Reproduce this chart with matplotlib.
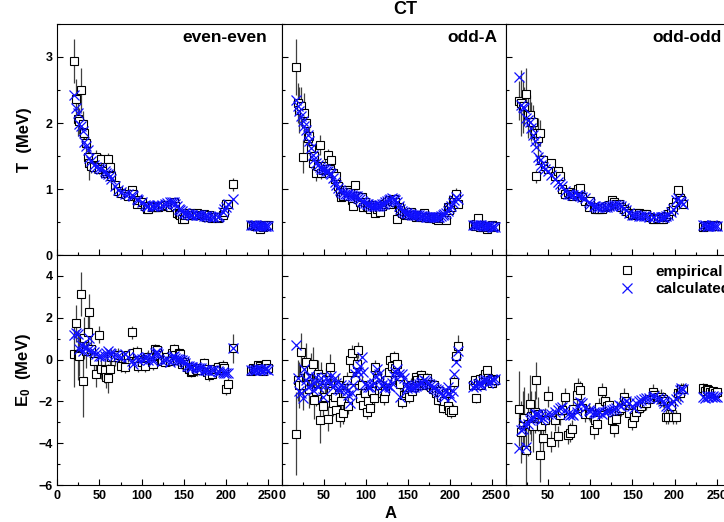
import matplotlib.pyplot as plt
from matplotlib.lines import Line2D
from matplotlib.ticker import MultipleLocator

plt.rcParams['font.family'] = ['Liberation Sans', 'DejaVu Sans']
plt.rcParams['font.weight'] = 'bold'
plt.rcParams['mathtext.fontset'] = 'custom'
plt.rcParams['mathtext.rm'] = 'Liberation Sans:bold'
plt.rcParams['mathtext.bf'] = 'Liberation Sans:bold'
plt.rcParams['axes.linewidth'] = 0.8


# even-even
ee_A = [20, 22, 24, 26, 28, 30, 32, 34, 36, 38,
        40, 44, 46, 50, 52, 56, 58, 60, 62, 64,
        68, 72, 76, 80, 84, 88, 90, 94, 96, 100,
        104, 106, 108, 112, 114, 116, 118, 120, 124, 128,
        130, 134, 136, 138, 140, 142, 144, 146, 148, 150,
        152, 154, 156, 158, 160, 164, 166, 168, 170, 174,
        176, 178, 180, 184, 186, 190, 192, 196, 198, 200,
        202, 208, 230, 232, 234, 236, 238, 240, 242, 244,
        246, 248, 250]
ee_T = [2.94, 2.37, 2.06, 2.03, 2.50, 1.98, 1.85, 1.70, 1.49, 1.39,
        1.35, 1.34, 1.49, 1.30, 1.45, 1.25, 1.28, 1.45, 1.34, 1.20,
        1.06, 0.97, 0.94, 0.92, 0.90, 0.99, 0.93, 0.78, 0.84, 0.81,
        0.74, 0.70, 0.70, 0.72, 0.74, 0.73, 0.73, 0.72, 0.74, 0.75,
        0.76, 0.72, 0.78, 0.81, 0.75, 0.63, 0.62, 0.60, 0.55, 0.55,
        0.60, 0.63, 0.60, 0.63, 0.60, 0.60, 0.63, 0.60, 0.60, 0.62,
        0.58, 0.57, 0.60, 0.56, 0.57, 0.56, 0.58, 0.60, 0.65, 0.78,
        0.77, 1.07, 0.46, 0.45, 0.44, 0.46, 0.45, 0.40, 0.44, 0.43,
        0.45, 0.44, 0.45]
ee_T_err = [0.33, 0.30, 0.25, 0.20, 0.33, 0.20, 0.20, 0.15, 0.15, 0.25,
            0.10, 0.10, 0.10, 0.08, 0.08, 0.08, 0.08, 0.10, 0.08, 0.06,
            0.05, 0.05, 0.04, 0.04, 0.04, 0.04, 0.04, 0.03, 0.03, 0.03,
            0.03, 0.03, 0.03, 0.03, 0.03, 0.03, 0.03, 0.03, 0.03, 0.03,
            0.03, 0.03, 0.03, 0.03, 0.03, 0.03, 0.03, 0.03, 0.03, 0.03,
            0.03, 0.03, 0.03, 0.03, 0.03, 0.03, 0.03, 0.03, 0.03, 0.03,
            0.03, 0.03, 0.03, 0.03, 0.03, 0.03, 0.03, 0.03, 0.03, 0.04,
            0.04, 0.10, 0.02, 0.02, 0.02, 0.02, 0.02, 0.02, 0.02, 0.02,
            0.02, 0.02, 0.02]
ee_T_calc = [2.43, 2.22, 2.15, 1.98, 1.95, 1.88, 1.71, 1.65, 1.59, 1.47,
             1.42, 1.37, 1.34, 1.32, 1.30, 1.28, 1.25, 1.23, 1.19, 1.15,
             1.04, 0.98, 0.95, 0.93, 0.92, 0.91, 0.89, 0.85, 0.83, 0.80,
             0.76, 0.75, 0.75, 0.74, 0.75, 0.75, 0.76, 0.76, 0.76, 0.78,
             0.79, 0.80, 0.81, 0.81, 0.78, 0.74, 0.70, 0.68, 0.66, 0.64,
             0.63, 0.62, 0.62, 0.61, 0.61, 0.61, 0.60, 0.60, 0.60, 0.59,
             0.59, 0.59, 0.58, 0.58, 0.58, 0.58, 0.59, 0.65, 0.70, 0.72,
             0.77, 0.85, 0.45, 0.45, 0.45, 0.45, 0.44, 0.44, 0.44, 0.44,
             0.44, 0.44, 0.44]
ee_E0 = [0.27, 1.73, 0.20, 0.19, 3.13, -1.03, 1.03, 0.40, 1.30, 2.25,
         0.50, -0.05, -0.71, 1.19, -0.44, -0.52, -0.84, -0.90, -0.44, 0.10,
         0.11, 0.20, -0.29, -0.35, 0.20, 1.30, 0.30, 0.35, -0.29, -0.10,
         -0.29, 0.05, 0.14, -0.10, -0.21, 0.51, 0.45, 0.20, -0.05, -0.10,
         0.11, -0.05, 0.30, 0.51, 0.20, 0.00, 0.30, 0.27, -0.21, -0.10,
         -0.20, -0.35, -0.45, -0.60, -0.55, -0.45, -0.52, -0.40, -0.50, -0.16,
         -0.45, -0.60, -0.76, -0.68, -0.45, -0.35, -0.50, -0.29, -0.40, -1.40,
         -1.19, 0.54, -0.55, -0.40, -0.45, -0.50, -0.25, -0.30, -0.40, -0.55,
         -0.30, -0.20, -0.40]
ee_E0_err = [1.60, 0.90, 1.20, 1.00, 1.05, 1.70, 1.00, 0.80, 0.90, 0.90,
             0.70, 0.60, 0.60, 0.40, 0.50, 0.60, 0.50, 0.70, 0.50, 0.40,
             0.40, 0.35, 0.30, 0.30, 0.30, 0.30, 0.30, 0.30, 0.30, 0.30,
             0.30, 0.30, 0.30, 0.30, 0.30, 0.25, 0.25, 0.25, 0.25, 0.25,
             0.25, 0.25, 0.25, 0.25, 0.25, 0.25, 0.25, 0.25, 0.25, 0.25,
             0.25, 0.25, 0.25, 0.25, 0.25, 0.25, 0.25, 0.25, 0.25, 0.25,
             0.25, 0.25, 0.25, 0.25, 0.25, 0.25, 0.25, 0.25, 0.25, 0.30,
             0.30, 0.70, 0.20, 0.20, 0.20, 0.20, 0.20, 0.20, 0.20, 0.20,
             0.20, 0.20, 0.20]
ee_E0_calc = [1.19, 1.25, 1.22, 0.50, 0.71, 0.43, 0.62, 0.59, 0.45, 1.03,
              0.40, 0.35, 0.25, 0.19, 0.17, 0.19, 0.30, 0.40, 0.30, 0.27,
              0.22, 0.16, 0.14, 0.25, 0.11, -0.08, -0.20, 0.11, 0.00, 0.03,
              0.05, 0.11, 0.00, 0.08, -0.05, 0.30, 0.35, 0.25, -0.05, 0.00,
              0.03, -0.10, 0.10, 0.19, 0.05, 0.03, 0.03, 0.00, -0.02, -0.05,
              -0.15, -0.29, -0.30, -0.35, -0.38, -0.37, -0.40, -0.42, -0.40, -0.48,
              -0.52, -0.50, -0.55, -0.49, -0.50, -0.55, -0.60, -0.60, -0.62, -0.63,
              -0.65, 0.54, -0.48, -0.50, -0.48, -0.52, -0.45, -0.50, -0.45, -0.48,
              -0.47, -0.45, -0.48]

# odd-A
oa_A = [17, 19, 21, 23, 25, 27, 29, 31, 33, 35,
        37, 39, 41, 43, 45, 47, 49, 51, 53, 55,
        57, 59, 61, 63, 65, 67, 69, 71, 73, 75,
        77, 79, 81, 83, 85, 87, 89, 91, 93, 95,
        97, 99, 101, 103, 105, 107, 109, 111, 113, 115,
        117, 119, 121, 123, 125, 127, 129, 131, 133, 135,
        137, 139, 141, 143, 145, 147, 149, 151, 153, 155,
        157, 159, 161, 163, 165, 167, 169, 171, 173, 175,
        177, 179, 181, 183, 185, 187, 189, 191, 193, 195,
        197, 199, 201, 203, 205, 207, 209, 227, 229, 231,
        233, 235, 237, 239, 241, 243, 245, 247, 249, 251,
        253]
oa_T = [2.85, 2.30, 2.20, 2.25, 1.49, 2.15, 2.00, 1.77, 1.80, 1.60,
        1.39, 1.50, 1.24, 1.35, 1.67, 1.25, 1.29, 1.35, 1.30, 1.52,
        1.30, 1.44, 1.25, 1.15, 1.19, 1.05, 0.95, 0.88, 0.90, 0.98,
        0.98, 0.90, 0.95, 0.83, 0.74, 1.06, 0.90, 0.85, 0.80, 0.88,
        0.73, 0.80, 0.75, 0.72, 0.70, 0.76, 0.72, 0.64, 0.70, 0.72,
        0.65, 0.75, 0.78, 0.77, 0.80, 0.83, 0.78, 0.82, 0.85, 0.80,
        0.55, 0.72, 0.68, 0.63, 0.62, 0.60, 0.62, 0.60, 0.65, 0.60,
        0.60, 0.58, 0.61, 0.59, 0.60, 0.58, 0.63, 0.57, 0.58, 0.56,
        0.57, 0.56, 0.57, 0.55, 0.53, 0.56, 0.57, 0.58, 0.56, 0.53,
        0.73, 0.68, 0.72, 0.83, 0.80, 0.93, 0.78, 0.45, 0.44, 0.47,
        0.56, 0.43, 0.45, 0.42, 0.44, 0.40, 0.43, 0.44, 0.45, 0.42,
        0.44]
oa_T_err = [0.43, 0.30, 0.35, 0.30, 0.25, 0.30, 0.20, 0.20, 0.15, 0.15,
            0.15, 0.12, 0.12, 0.10, 0.15, 0.10, 0.10, 0.10, 0.08, 0.08,
            0.08, 0.08, 0.06, 0.06, 0.05, 0.05, 0.05, 0.05, 0.05, 0.05,
            0.05, 0.04, 0.04, 0.04, 0.04, 0.06, 0.04, 0.04, 0.04, 0.04,
            0.03, 0.03, 0.03, 0.03, 0.03, 0.03, 0.03, 0.03, 0.03, 0.03,
            0.03, 0.03, 0.03, 0.03, 0.03, 0.03, 0.03, 0.03, 0.03, 0.03,
            0.03, 0.03, 0.03, 0.03, 0.03, 0.03, 0.03, 0.03, 0.03, 0.03,
            0.03, 0.03, 0.03, 0.03, 0.03, 0.03, 0.03, 0.03, 0.03, 0.03,
            0.03, 0.03, 0.03, 0.03, 0.03, 0.03, 0.03, 0.03, 0.03, 0.03,
            0.03, 0.03, 0.03, 0.04, 0.04, 0.08, 0.05, 0.02, 0.02, 0.02,
            0.03, 0.02, 0.02, 0.02, 0.02, 0.02, 0.02, 0.02, 0.02, 0.02,
            0.02]
oa_T_calc = [2.35, 2.25, 2.18, 2.10, 2.03, 1.96, 1.90, 1.82, 1.72, 1.62,
             1.52, 1.45, 1.40, 1.36, 1.33, 1.31, 1.30, 1.30, 1.28, 1.27,
             1.25, 1.22, 1.17, 1.11, 1.06, 1.02, 0.99, 0.96, 0.94, 0.93,
             0.92, 0.92, 0.91, 0.91, 0.90, 0.90, 0.89, 0.87, 0.85, 0.82,
             0.80, 0.79, 0.78, 0.77, 0.76, 0.75, 0.75, 0.74, 0.74, 0.75,
             0.76, 0.77, 0.78, 0.80, 0.82, 0.84, 0.85, 0.86, 0.85, 0.84,
             0.80, 0.75, 0.70, 0.67, 0.65, 0.64, 0.63, 0.62, 0.62, 0.61,
             0.61, 0.60, 0.60, 0.60, 0.59, 0.59, 0.59, 0.58, 0.58, 0.58,
             0.58, 0.58, 0.58, 0.58, 0.58, 0.58, 0.59, 0.60, 0.62, 0.64,
             0.67, 0.71, 0.75, 0.79, 0.83, 0.88, 0.85, 0.46, 0.46, 0.45,
             0.45, 0.45, 0.45, 0.44, 0.44, 0.44, 0.44, 0.44, 0.43, 0.43,
             0.43]
oa_E0 = [-3.54, -1.00, -1.20, 0.35, -1.20, -0.50, -0.13, -0.80, -1.40, -0.50,
         -0.20, -1.95, -1.50, -0.70, -2.90, -0.83, -2.20, -1.78, -1.00, -2.83,
         -0.35, -1.50, -2.10, -1.80, -2.40, -1.20, -2.74, -2.00, -2.58, -1.60,
         -0.99, -2.20, 0.00, 0.29, -0.40, -1.00, -0.19, 0.45, -1.86, -1.20,
         -2.18, -1.60, -2.50, -2.00, -2.34, -1.50, -1.86, -0.35, -0.90, -1.46,
         -1.20, -1.60, -1.86, -1.50, -1.00, -0.60, -0.03, -0.30, 0.13, -0.40,
         -0.19, -1.00, -1.15, -2.02, -1.70, -1.62, -1.30, -1.78, -1.20, -1.50,
         -1.30, -0.83, -1.00, -1.20, -0.75, -0.90, -1.10, -1.20, -0.90, -1.15,
         -1.30, -1.40, -1.20, -1.60, -1.94, -1.50, -1.80, -2.30, -2.00, -1.60,
         -2.20, -2.42, -2.50, -2.42, -1.08, 0.19, 0.67, -1.20, -1.00, -1.86,
         -1.10, -0.95, -1.20, -0.90, -0.70, -0.50, -0.90, -1.00, -1.10, -0.95,
         -1.00]
oa_E0_err = [2.00, 1.00, 1.10, 0.90, 1.20, 1.00, 0.90, 0.80, 0.90, 0.80,
             0.80, 0.90, 0.70, 0.70, 1.10, 0.70, 0.70, 0.60, 0.60, 0.60,
             0.60, 0.60, 0.60, 0.50, 0.50, 0.50, 0.50, 0.50, 0.50, 0.40,
             0.40, 0.40, 0.40, 0.40, 0.40, 0.40, 0.40, 0.40, 0.40, 0.40,
             0.35, 0.35, 0.35, 0.35, 0.35, 0.35, 0.35, 0.35, 0.35, 0.35,
             0.30, 0.30, 0.30, 0.30, 0.30, 0.30, 0.30, 0.30, 0.30, 0.30,
             0.30, 0.30, 0.30, 0.30, 0.30, 0.30, 0.30, 0.30, 0.30, 0.30,
             0.25, 0.25, 0.25, 0.25, 0.25, 0.25, 0.25, 0.25, 0.25, 0.25,
             0.25, 0.25, 0.25, 0.25, 0.25, 0.25, 0.25, 0.25, 0.25, 0.25,
             0.30, 0.30, 0.30, 0.30, 0.30, 0.30, 0.50, 0.20, 0.20, 0.20,
             0.20, 0.20, 0.20, 0.20, 0.20, 0.20, 0.20, 0.20, 0.20, 0.20,
             0.20]
oa_E0_calc = [0.68, -0.90, -1.50, -1.62, -1.86, -0.43, -1.00, -1.30, -0.80, -1.20,
              -1.46, -1.10, -0.83, -1.30, -1.15, -0.90, -1.78, -1.20, -0.90, -1.00,
              -1.15, -0.80, -1.30, -0.90, -1.10, -1.40, -1.46, -1.20, -1.30, -1.38,
              -1.50, -1.70, -2.10, -1.60, -1.20, -0.70, -0.50, -0.60, -0.30, 0.13,
              -0.60, -1.15, -1.20, -1.30, -1.30, -1.20, -1.10, -0.80, -0.43, -0.70,
              -0.99, -1.20, -1.38, -1.30, -1.20, -1.25, -1.30, -1.10, -0.80, -0.60,
              -0.43, -0.70, -1.78, -0.67, -0.90, -1.20, -1.38, -1.30, -1.35, -1.30,
              -1.30, -1.25, -1.20, -1.15, -1.10, -1.07, -1.00, -1.05, -1.10, -1.15,
              -1.20, -1.30, -1.35, -1.40, -1.45, -1.55, -1.62, -1.70, -1.78, -1.50,
              -1.30, -1.60, -1.80, -1.50, -0.68, -0.13, 0.43, -1.30, -1.20, -1.25,
              -1.15, -1.10, -1.20, -1.05, -1.00, -1.00, -1.10, -1.05, -0.95, -1.00,
              -0.95]

# odd-odd
oo_A = [16, 18, 20, 22, 24, 26, 28, 30, 32, 34,
        36, 38, 40, 42, 44, 46, 50, 54, 58, 62,
        64, 66, 70, 74, 76, 78, 80, 84, 86, 88,
        90, 94, 98, 100, 104, 106, 108, 110, 114, 118,
        120, 122, 126, 128, 130, 134, 136, 140, 142, 146,
        150, 152, 154, 158, 160, 164, 166, 170, 174, 176,
        180, 184, 186, 188, 190, 192, 196, 198, 202, 204,
        206, 208, 210, 234, 236, 238, 240, 242, 244, 246,
        248, 250]
oo_T = [2.34, 2.30, 2.25, 2.25, 2.44, 2.12, 2.12, 2.02, 2.02, 1.85,
        1.19, 1.77, 1.85, 1.44, 1.44, 1.35, 1.30, 1.40, 1.20, 1.28,
        1.20, 1.00, 0.93, 0.96, 0.92, 0.90, 0.93, 0.95, 1.00, 1.02,
        0.88, 0.82, 0.73, 0.82, 0.73, 0.70, 0.69, 0.70, 0.69, 0.72,
        0.75, 0.76, 0.83, 0.80, 0.78, 0.78, 0.72, 0.70, 0.66, 0.63,
        0.60, 0.62, 0.63, 0.63, 0.60, 0.62, 0.62, 0.57, 0.55, 0.55,
        0.56, 0.55, 0.55, 0.57, 0.59, 0.62, 0.66, 0.73, 0.80, 0.99,
        0.86, 0.83, 0.78, 0.42, 0.44, 0.45, 0.44, 0.44, 0.45, 0.44,
        0.45, 0.44]
oo_T_err = [0.30, 0.50, 0.40, 0.30, 0.40, 0.35, 0.30, 0.30, 0.25, 0.20,
            0.10, 0.30, 0.20, 0.10, 0.08, 0.08, 0.06, 0.06, 0.05, 0.05,
            0.05, 0.05, 0.05, 0.05, 0.05, 0.05, 0.05, 0.05, 0.05, 0.05,
            0.04, 0.04, 0.04, 0.04, 0.04, 0.04, 0.04, 0.04, 0.04, 0.04,
            0.03, 0.03, 0.03, 0.03, 0.03, 0.03, 0.03, 0.03, 0.03, 0.03,
            0.03, 0.03, 0.03, 0.03, 0.03, 0.03, 0.03, 0.03, 0.03, 0.03,
            0.03, 0.03, 0.03, 0.03, 0.03, 0.03, 0.03, 0.03, 0.03, 0.05,
            0.04, 0.04, 0.04, 0.02, 0.02, 0.02, 0.02, 0.02, 0.02, 0.02,
            0.02, 0.02]
oo_T_calc = [2.70, 2.27, 2.24, 2.22, 2.07, 2.04, 2.02, 1.92, 1.82, 1.72,
             1.64, 1.49, 1.44, 1.36, 1.33, 1.30, 1.27, 1.21, 1.15, 1.10,
             1.08, 1.05, 0.97, 0.93, 0.92, 0.91, 0.91, 0.91, 0.91, 0.90,
             0.88, 0.86, 0.80, 0.78, 0.75, 0.74, 0.73, 0.73, 0.72, 0.72,
             0.73, 0.74, 0.75, 0.76, 0.76, 0.76, 0.74, 0.71, 0.68, 0.64,
             0.61, 0.60, 0.60, 0.59, 0.59, 0.59, 0.59, 0.58, 0.57, 0.57,
             0.57, 0.57, 0.57, 0.58, 0.59, 0.60, 0.65, 0.70, 0.83, 0.86,
             0.82, 0.80, 0.78, 0.45, 0.45, 0.44, 0.44, 0.44, 0.45, 0.44,
             0.44, 0.44]
oo_E0 = [-2.35, -3.46, -3.00, -2.80, -4.33, -3.10, -2.14, -2.70, -3.20, -2.50,
         -1.00, -2.60, -4.57, -3.20, -3.77, -2.90, -1.75, -3.93, -2.90, -3.66,
         -2.66, -2.40, -1.79, -3.60, -3.50, -3.33, -2.35, -1.71, -1.31, -1.48,
         -2.30, -2.60, -2.50, -2.60, -3.38, -2.90, -3.10, -2.26, -1.52, -2.00,
         -2.20, -2.18, -2.90, -3.31, -2.85, -2.40, -2.30, -1.78, -2.00, -2.58,
         -3.03, -2.74, -2.50, -2.34, -2.20, -2.10, -2.07, -1.90, -1.54, -1.70,
         -1.80, -1.78, -1.90, -2.00, -2.74, -2.74, -2.20, -2.74, -2.74, -1.62,
         -1.62, -1.43, -1.43, -1.34, -1.50, -1.40, -1.46, -1.55, -1.60, -1.50,
         -1.62, -1.55]
oo_E0_err = [1.80, 1.50, 1.50, 1.50, 1.70, 1.50, 1.40, 1.20, 1.20, 1.00,
             0.90, 0.80, 1.30, 0.80, 0.70, 0.60, 0.50, 0.50, 0.50, 0.50,
             0.45, 0.45, 0.45, 0.45, 0.45, 0.45, 0.45, 0.45, 0.45, 0.45,
             0.40, 0.40, 0.40, 0.40, 0.40, 0.40, 0.40, 0.40, 0.40, 0.40,
             0.40, 0.40, 0.40, 0.40, 0.40, 0.40, 0.40, 0.40, 0.40, 0.40,
             0.35, 0.35, 0.35, 0.35, 0.35, 0.35, 0.35, 0.35, 0.35, 0.35,
             0.35, 0.35, 0.35, 0.35, 0.35, 0.35, 0.35, 0.35, 0.35, 0.35,
             0.35, 0.30, 0.30, 0.20, 0.20, 0.20, 0.20, 0.20, 0.20, 0.20,
             0.20, 0.20]
oo_E0_calc = [-4.25, -3.38, -3.30, -3.10, -4.18, -3.06, -2.90, -2.80, -2.75, -2.60,
              -2.59, -2.60, -2.70, -2.90, -2.80, -2.70, -2.60, -2.59, -2.50, -2.43,
              -2.30, -2.27, -2.40, -2.60, -2.67, -2.60, -2.67, -2.50, -2.20, -2.03,
              -2.10, -2.30, -2.43, -2.45, -2.50, -2.56, -2.55, -2.50, -2.59, -2.50,
              -2.45, -2.40, -2.40, -2.35, -2.30, -2.19, -2.20, -2.10, -2.00, -2.10,
              -2.20, -2.30, -2.10, -2.00, -1.95, -1.90, -1.85, -1.85, -1.80, -1.75,
              -1.85, -1.90, -2.00, -2.10, -2.20, -2.25, -2.10, -2.00, -1.90, -1.80,
              -1.45, -1.35, -1.40, -1.80, -1.85, -1.75, -1.80, -1.75, -1.80, -1.75,
              -1.80, -1.78]

groups = [
    ("even-even", ee_A, ee_T, ee_T_err, ee_T_calc, ee_E0, ee_E0_err, ee_E0_calc),
    ("odd-A", oa_A, oa_T, oa_T_err, oa_T_calc, oa_E0, oa_E0_err, oa_E0_calc),
    ("odd-odd", oo_A, oo_T, oo_T_err, oo_T_calc, oo_E0, oo_E0_err, oo_E0_calc),
]
label_x = [0.935, 0.96, 0.962]

W, H = 724, 522
fig = plt.figure(figsize=(W / 100, H / 100), dpi=100)

left0 = 57.3
pw = 224.3
rows = [(24, 255), (255, 485)]

sq_style = dict(marker="s", ms=5.5, mfc="white", mec="black", mew=0.8)
x_style = dict(marker="x", color="#1010ff", ms=6.5, mew=0.9)


def style_axis(ax, row, col):
    ax.tick_params(which="both", direction="in", top=False, right=False,
                   labelsize=9, width=0.8)
    ax.tick_params(which="major", length=4)
    ax.tick_params(which="minor", length=2)
    ax.xaxis.set_major_locator(MultipleLocator(50))
    ax.xaxis.set_minor_locator(MultipleLocator(25))
    ax.set_xlim(0, 266)
    if row == 0:
        ax.set_ylim(0, 3.5)
        ax.yaxis.set_major_locator(MultipleLocator(1))
        ax.yaxis.set_minor_locator(MultipleLocator(0.5))
        ax.tick_params(labelbottom=False)
    else:
        ax.set_ylim(-6, 5)
        ax.yaxis.set_major_locator(MultipleLocator(2))
        ax.yaxis.set_minor_locator(MultipleLocator(1))
    if col > 0:
        ax.tick_params(labelleft=False)
    for lab in ax.get_xticklabels() + ax.get_yticklabels():
        lab.set_fontweight("bold")


for col, (name, A, T, T_err, T_calc, E0, E0_err, E0_calc) in enumerate(groups):
    x0 = (left0 + col * pw) / W
    for row, (ytop, ybot) in enumerate(rows):
        ax = fig.add_axes([x0, 1 - ybot / H, pw / W, (ybot - ytop) / H])
        if row == 0:
            yv, ye, yc = T, T_err, T_calc
        else:
            yv, ye, yc = E0, E0_err, E0_calc
        ax.errorbar(A, yv, yerr=ye, fmt="none", ecolor="0.25",
                    elinewidth=0.9, capsize=0, zorder=1)
        ax.plot(A, yv, ls="none", zorder=2, **sq_style)
        ax.plot(A, yc, ls="none", zorder=3, **x_style)
        style_axis(ax, row, col)
        if row == 0:
            ax.text(label_x[col], 0.94, name, transform=ax.transAxes,
                    ha="right", va="center", fontsize=12.5, fontweight="bold")
            if col == 0:
                ax.set_ylabel("T  (MeV)", fontsize=12, fontweight="bold",
                              labelpad=10)
        else:
            if col == 0:
                ax.set_ylabel(r"$\mathbf{E_0}$  (MeV)", fontsize=12,
                              fontweight="bold", labelpad=4)
            if col == 2:
                handles = [Line2D([], [], ls="none", **sq_style),
                           Line2D([], [], ls="none", **x_style)]
                ax.legend(handles, ["empirical", "calculated"],
                          loc="upper left", bbox_to_anchor=(0.47, 0.985),
                          frameon=False, fontsize=11, handlelength=1.2,
                          handletextpad=1.3, labelspacing=0.25,
                          borderaxespad=0, numpoints=1)

fig.text(405 / W, 1 - 10 / H, "CT", ha="center", va="center",
         fontsize=13, fontweight="bold")
fig.text(391 / W, 1 - 513 / H, "A", ha="center", va="center",
         fontsize=12, fontweight="bold")

fig.savefig("out.png", dpi=100)
